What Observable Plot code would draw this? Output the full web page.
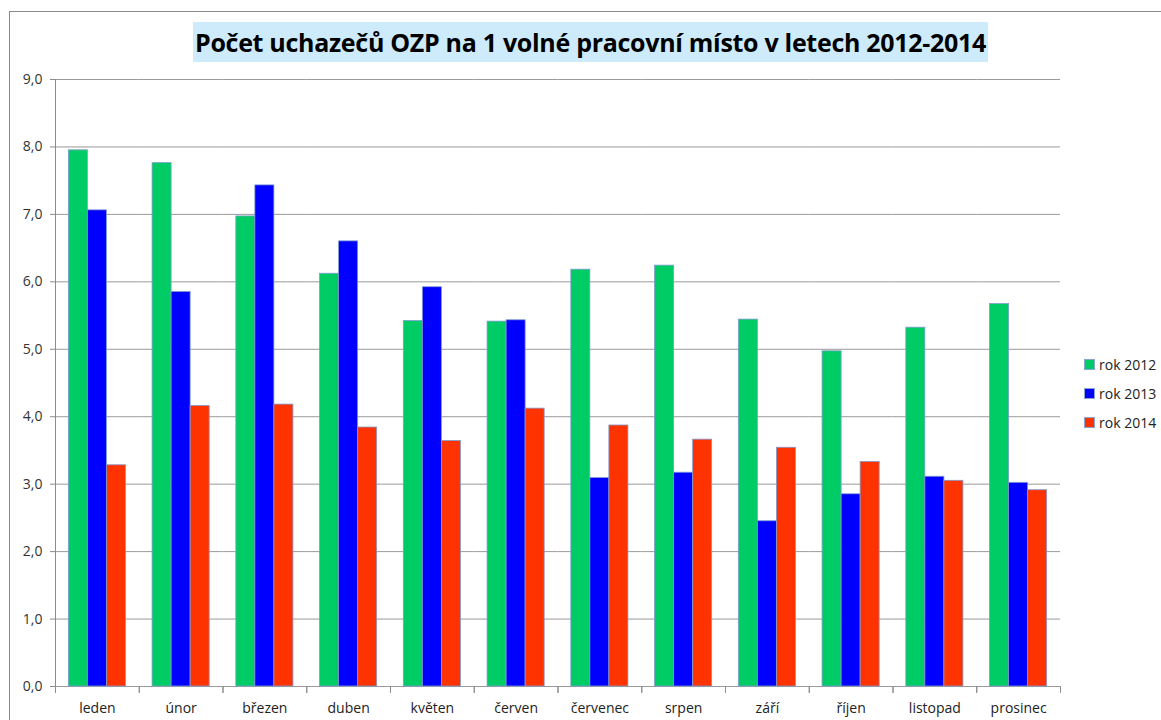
<!DOCTYPE html>
<html>
<head>
<meta charset="utf-8">
<script src="https://cdn.jsdelivr.net/npm/d3@7"></script>
<script src="https://cdn.jsdelivr.net/npm/@observablehq/plot@0.6"></script>
<style>
  html, body { margin: 0; padding: 0; background: #fff; }
  #wrap { position: relative; width: 1161px; height: 720px; overflow: hidden; font-family: "Open Sans", "Noto Sans", sans-serif; }
  #border { position: absolute; left: 9px; top: 11px; width: 1200px; height: 800px; border-left: 1.5px solid #8a8a8a; border-top: 1.5px solid #8a8a8a; box-sizing: border-box; }
  #title { position: absolute; left: 193px; top: 22px; width: 795px; height: 40px; background: #cdebfb; font-weight: bold; font-size: 25px; line-height: 40px; text-align: center; color: #000; letter-spacing: -0.3px; white-space: nowrap; }
  #legend { position: absolute; left: 1084px; top: 350px; font-size: 14px; color: #222; }
  #legend div { height: 29px; display: flex; align-items: center; }
  #legend span.sw { display: inline-block; width: 9px; height: 9px; margin-right: 4px; border: 1px solid #8aa4d0; }
  #chart { position: absolute; left: 0; top: 0; }
</style>
</head>
<body>
<div id="wrap">
  <div id="border"></div>
  <div id="chart"></div>
  <div id="title">Počet uchazečů OZP na 1 volné pracovní místo v letech 2012-2014</div>
  <div id="legend"></div>
</div>
<script>
const months = ["leden","únor","březen","duben","květen","červen","červenec","srpen","září","říjen","listopad","prosinec"];
const seriesNames = ["rok 2012","rok 2013","rok 2014"];
const colors = ["#00cc66","#0000ff","#ff3300"];
const values2012 = [7.95, 7.76, 6.97, 6.12, 5.42, 5.41, 6.18, 6.24, 5.44, 4.97, 5.32, 5.67];
const values2013 = [7.06, 5.85, 7.43, 6.60, 5.92, 5.43, 3.09, 3.17, 2.45, 2.85, 3.11, 3.02];
const values2014 = [3.28, 4.16, 4.18, 3.84, 3.64, 4.12, 3.87, 3.66, 3.54, 3.33, 3.05, 2.91];
const yTicks = [0,1,2,3,4,5,6,7,8,9];

const seriesValues = [values2012, values2013, values2014];
const data = [];
months.forEach((m, i) => {
  seriesNames.forEach((s, j) => data.push({month: m, series: s, value: seriesValues[j][i]}));
});

const fmt = d => d.toFixed(1).replace(".", ",");
const tickShape = {draw(ctx, l) { ctx.moveTo(0, 0); ctx.lineTo(0, -l); }};

const chart = Plot.plot({
  width: 1161,
  height: 720,
  marginLeft: 55,
  marginRight: 101,
  marginTop: 79,
  marginBottom: 34,
  style: {fontFamily: "'Open Sans', 'Noto Sans', sans-serif", fontSize: "14px", color: "#222", background: "transparent"},
  fx: {domain: months, padding: 0, round: false, label: null},
  x: {domain: seriesNames, paddingInner: 0, paddingOuter: 0.7, round: false, axis: null},
  y: {domain: [0, 9], ticks: yTicks, label: null},
  color: {domain: seriesNames, range: colors},
  marks: [
    Plot.gridY(yTicks, {stroke: "#9a9a9a", strokeOpacity: 1, strokeWidth: 1}),
    Plot.barY(data, {fx: "month", x: "series", y: "value", fill: "series", stroke: "#7f9bd0", strokeWidth: 0.8}),
    Plot.frame({anchor: "left", facetAnchor: "left", stroke: "#8c8c8c"}),
    Plot.vector([0], {frameAnchor: "bottom-left", length: 6, rotate: 180, anchor: "start", stroke: "#8c8c8c", strokeWidth: 1, shape: tickShape}),
    Plot.vector([0], {frameAnchor: "bottom-right", length: 6, rotate: 180, anchor: "start", stroke: "#8c8c8c", strokeWidth: 1, shape: tickShape}),
    Plot.axisY(yTicks, {tickFormat: fmt, tickSize: 5, tickPadding: 8, stroke: "#8c8c8c", fill: "#333", label: null}),
    Plot.axisFx({anchor: "bottom", tickSize: 0, tickPadding: 17, fill: "#222", label: null})
  ]
});
document.getElementById("chart").appendChild(chart);

const legend = document.getElementById("legend");
seriesNames.forEach((s, j) => {
  const row = document.createElement("div");
  const sw = document.createElement("span");
  sw.className = "sw";
  sw.style.background = colors[j];
  row.appendChild(sw);
  row.appendChild(document.createTextNode(s));
  legend.appendChild(row);
});
</script>
</body>
</html>
